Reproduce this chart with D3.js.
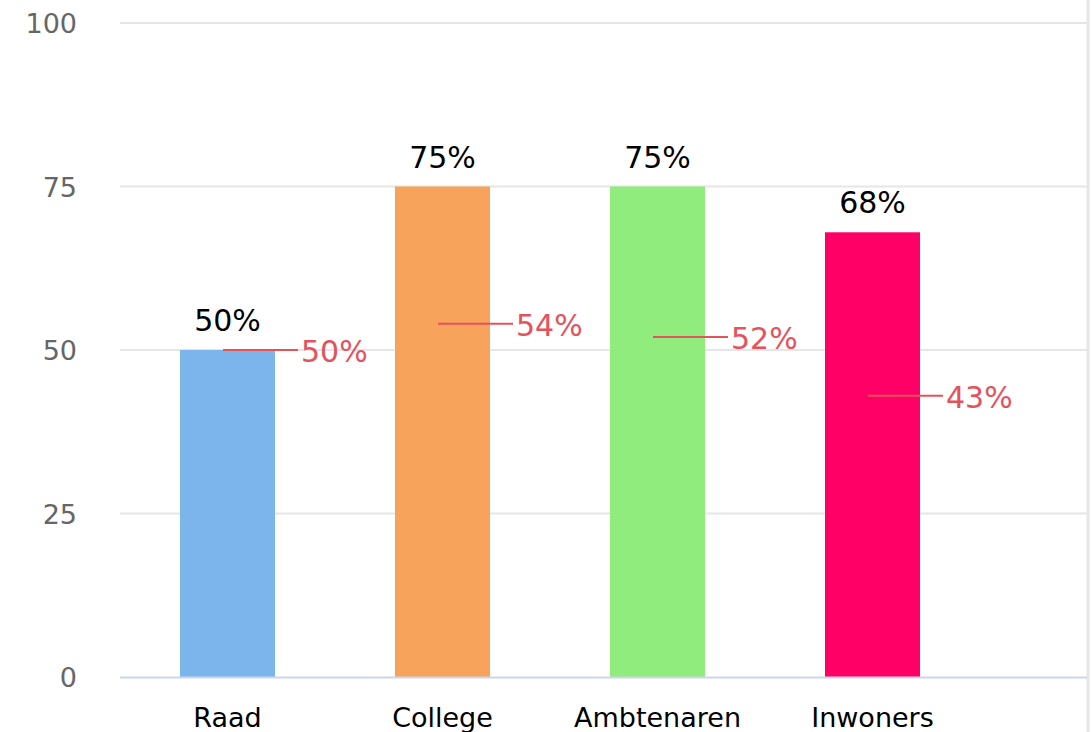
<!DOCTYPE html>
<html>
<head>
<meta charset="utf-8">
<script src="https://cdn.jsdelivr.net/npm/d3@7"></script>
<style>
  body { margin: 0; background: #fff; }
  svg { display: block; font-family: "DejaVu Sans", sans-serif; }
</style>
</head>
<body>
<script>
var categories = ["Raad", "College", "Ambtenaren", "Inwoners"];
var barValues = [50, 75, 75, 68];
var markerValues = [50, 54, 52, 43];
var barColors = ["#7cb5ec", "#f7a35c", "#90ed7d", "#ff0066"];
var yTicks = [0, 25, 50, 75, 100];

var W = 1092, H = 732;
var plotL = 120, plotR = 1087, plotT = 23, plotB = 677;

var svg = d3.select("body").append("svg").attr("width", W).attr("height", H);

var x = d3.scaleBand().domain(categories).range([plotL, 980]).padding(0);
var y = d3.scaleLinear().domain([0, 100]).range([plotB, plotT]);
var barW = 95;

// grid
svg.append("g")
  .selectAll("line")
  .data(yTicks.filter(function (d) { return d > 0; }))
  .enter()
  .append("line")
  .attr("x1", plotL).attr("x2", plotR)
  .attr("y1", function (d) { return y(d); })
  .attr("y2", function (d) { return y(d); })
  .attr("stroke", "#e6e6e6").attr("stroke-width", 2);

// right border
svg.append("line")
  .attr("x1", 1088).attr("x2", 1088).attr("y1", 0).attr("y2", H)
  .attr("stroke", "#e6e6e6").attr("stroke-width", 3);

// y labels
svg.append("g")
  .selectAll("text")
  .data(yTicks)
  .enter()
  .append("text")
  .attr("x", 77)
  .attr("y", function (d) { return y(d) + 10; })
  .attr("text-anchor", "end")
  .attr("fill", "#666")
  .attr("font-size", 27)
  .text(function (d) { return d; });

// bars
svg.append("g")
  .selectAll("rect")
  .data(categories)
  .enter()
  .append("rect")
  .attr("x", function (d) { return x(d) + x.bandwidth() / 2 - barW / 2; })
  .attr("width", barW)
  .attr("y", function (d, i) { return y(barValues[i]); })
  .attr("height", function (d, i) { return plotB - y(barValues[i]); })
  .attr("fill", function (d, i) { return barColors[i]; });

// x axis line
svg.append("line")
  .attr("x1", plotL).attr("x2", plotR)
  .attr("y1", plotB + 0.5).attr("y2", plotB + 0.5)
  .attr("stroke", "#ccd6eb").attr("stroke-width", 2);

// bar value labels
svg.append("g")
  .selectAll("text")
  .data(categories)
  .enter()
  .append("text")
  .attr("x", function (d) { return x(d) + x.bandwidth() / 2; })
  .attr("y", function (d, i) { return y(barValues[i]) - 19; })
  .attr("text-anchor", "middle")
  .attr("fill", "#000")
  .attr("font-size", 30)
  .text(function (d, i) { return barValues[i] + "%"; });

// markers
var mk = svg.append("g")
  .selectAll("g")
  .data(categories)
  .enter()
  .append("g")
  .attr("transform", function (d, i) {
    return "translate(" + (x(d) + x.bandwidth() / 2 - 4.5) + "," + y(markerValues[i]) + ")";
  });
mk.append("line")
  .attr("x1", 0).attr("x2", 75).attr("y1", 0).attr("y2", 0)
  .attr("stroke", "#e4525c").attr("stroke-width", 2);
mk.append("text")
  .attr("x", 78).attr("y", 12)
  .attr("fill", "#e4525c")
  .attr("font-size", 30)
  .text(function (d, i) { return markerValues[i] + "%"; });

// category labels
svg.append("g")
  .selectAll("text")
  .data(categories)
  .enter()
  .append("text")
  .attr("x", function (d) { return x(d) + x.bandwidth() / 2; })
  .attr("y", 727)
  .attr("text-anchor", "middle")
  .attr("fill", "#000")
  .attr("font-size", 27)
  .text(function (d) { return d; });
</script>
</body>
</html>
